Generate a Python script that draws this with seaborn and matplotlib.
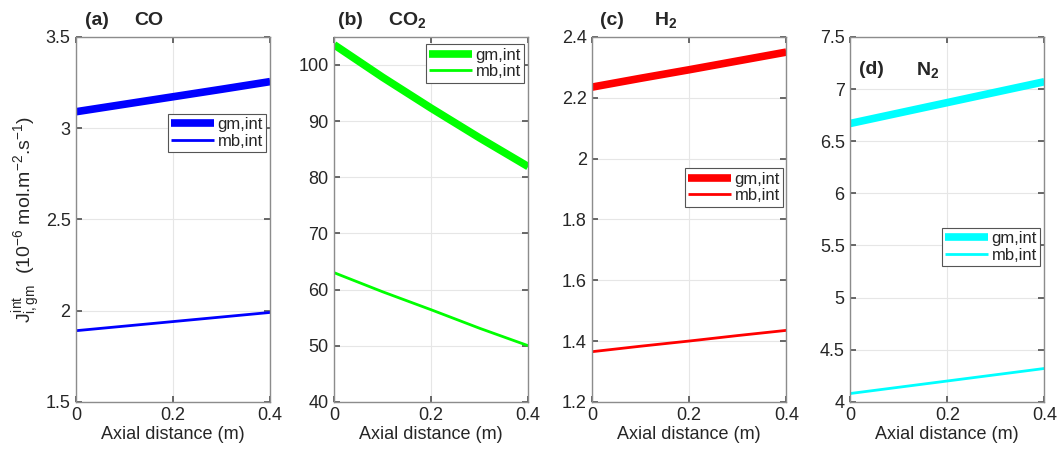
import numpy as np
import pandas as pd
import matplotlib
matplotlib.use("Agg")
import matplotlib.pyplot as plt
import seaborn as sns
from matplotlib.ticker import FuncFormatter

sns.set_theme(style="whitegrid")
plt.rcParams['font.family'] = ['Liberation Sans', 'DejaVu Sans']
plt.rcParams['mathtext.fontset'] = 'custom'
plt.rcParams['mathtext.rm'] = 'Liberation Sans'
plt.rcParams['mathtext.it'] = 'Liberation Sans'
plt.rcParams['mathtext.bf'] = 'Liberation Sans:bold'
plt.rcParams['lines.solid_capstyle'] = 'butt'

x = [0.0, 0.1, 0.2, 0.3, 0.4]
co_gm = [3.09, 3.131, 3.172, 3.213, 3.255]
co_mb = [1.89, 1.915, 1.94, 1.965, 1.99]
co2_gm = [103.6, 97.8, 92.3, 87.0, 81.9]
co2_mb = [63.0, 59.6, 56.4, 53.1, 50.0]
h2_gm = [2.235, 2.264, 2.292, 2.321, 2.35]
h2_mb = [1.365, 1.383, 1.40, 1.418, 1.435]
n2_gm = [6.67, 6.77, 6.87, 6.97, 7.07]
n2_mb = [4.08, 4.14, 4.20, 4.26, 4.32]

series_names = ["gm,int", "mb,int"]
labels = ["(a)", "(b)", "(c)", "(d)"]
species = ["CO", "CO$_\\mathbf{2}$", "H$_\\mathbf{2}$", "N$_\\mathbf{2}$"]
colors = ["#0000ff", "#00ff00", "#ff0000", "#00ffff"]
gms = [co_gm, co2_gm, h2_gm, n2_gm]
mbs = [co_mb, co2_mb, h2_mb, n2_mb]
ylims = [(1.5, 3.5), (40, 105), (1.2, 2.4), (4, 7.5)]
yticks = [np.arange(1.5, 3.51, 0.5), np.arange(40, 101, 10),
          np.arange(1.2, 2.41, 0.2), np.arange(4, 7.51, 0.5)]
leg_anchor = [(0.98, 0.79), (0.98, 0.98), (0.985, 0.64), (0.98, 0.477)]
title_pos = [(0.046, 0.30, 1.045), (0.02, 0.28, 1.045), (0.04, 0.32, 1.045), (0.046, 0.34, 0.91)]

fig, axes = plt.subplots(1, 4, figsize=(10.57, 4.5), dpi=100)
fig.subplots_adjust(left=0.072, right=0.988, top=0.918, bottom=0.107, wspace=0.33)

for i, ax in enumerate(axes):
    df = pd.DataFrame({
        "x": x + x,
        "y": gms[i] + mbs[i],
        "s": [series_names[0]] * len(x) + [series_names[1]] * len(x),
    })
    sns.lineplot(data=df, x="x", y="y", hue="s", size="s",
                 sizes={series_names[0]: 5.5, series_names[1]: 2.0},
                 palette={series_names[0]: colors[i], series_names[1]: colors[i]},
                 ax=ax, legend=True)
    ax.set_xlim(0, 0.4)
    ax.set_ylim(*ylims[i])
    ax.set_xticks([0, 0.2, 0.4])
    ax.set_yticks(yticks[i])
    fmt = FuncFormatter(lambda v, p: ("%.1f" % v).rstrip('0').rstrip('.'))
    ax.xaxis.set_major_formatter(fmt)
    ax.yaxis.set_major_formatter(fmt)
    ax.tick_params(direction="in", length=4, labelsize=13, colors="#262626",
                   top=True, right=True, bottom=True, left=True, pad=4,
                   color="#555555")
    for sp in ax.spines.values():
        sp.set_color("#8c8c8c")
        sp.set_linewidth(1.0)
    ax.grid(True, color="#e6e6e6", linewidth=0.8)
    ax.set_facecolor("white")
    ax.set_xlabel("Axial distance (m)", fontsize=13, color="#262626", labelpad=1)
    ax.set_ylabel("")
    h, l = ax.get_legend_handles_labels()
    leg = ax.legend(h, l, loc="upper right", bbox_to_anchor=leg_anchor[i],
                    fontsize=12, frameon=True, fancybox=False, framealpha=1,
                    edgecolor="#555555", handlelength=2.6, borderpad=0.2,
                    labelspacing=0.1, handletextpad=0.2, borderaxespad=0)
    leg.get_frame().set_linewidth(0.8)
    lx, sx, ty = title_pos[i]
    ax.text(lx, ty, labels[i], transform=ax.transAxes, fontsize=14,
            fontweight="bold", va="center", ha="left")
    ax.text(sx, ty, species[i], transform=ax.transAxes, fontsize=14,
            fontweight="bold", va="center", ha="left")

axes[0].set_ylabel("$J_{i,gm}^{int}$  (10$^{-6}$ mol.m$^{-2}$.s$^{-1}$)",
                   fontsize=14, color="#262626", labelpad=2)

fig.savefig("out.png", dpi=100, facecolor="white")
